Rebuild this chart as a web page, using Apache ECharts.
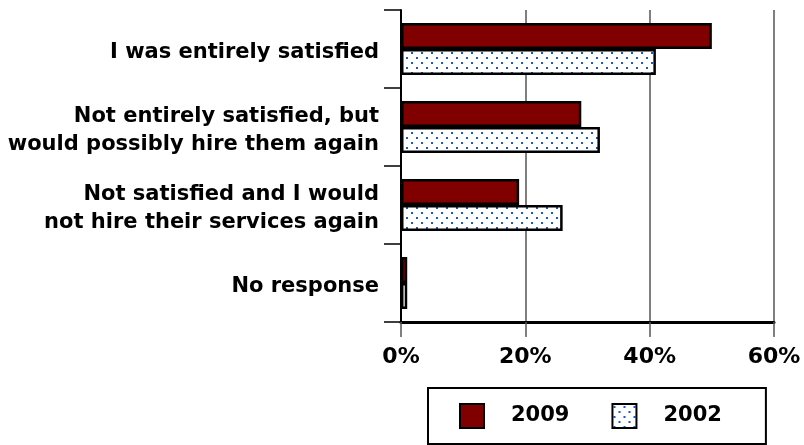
<!DOCTYPE html>
<html>
<head>
<meta charset="utf-8">
<script src="https://cdn.jsdelivr.net/npm/echarts@6/dist/echarts.min.js"></script>
<style>
  html, body { margin: 0; padding: 0; background: #fff; }
  #chart { width: 804px; height: 445px; }
</style>
</head>
<body>
<div id="chart"></div>
<script>
// Survey answers, top to bottom
const categories = [
  'I was entirely satisfied',
  'Not entirely satisfied, but\nwould possibly hire them again',
  'Not satisfied and I would\nnot hire their services again',
  'No response'
];
const values2009 = [50, 29, 19, 1];
const values2002 = [41, 32, 26, 1];
const xTicks = [0, 20, 40, 60];

// Dotted fill: white tile with staggered blue dots
function dotPattern() {
  const c = document.createElement('canvas');
  c.width = 10; c.height = 10;
  const g = c.getContext('2d');
  g.fillStyle = '#ffffff';
  g.fillRect(0, 0, 10, 10);
  g.fillStyle = '#1a5cb8';
  g.fillRect(1, 2, 2, 2);
  g.fillRect(6, 7, 2, 2);
  return c;
}

const font = 'DejaVu Sans';
const labelStyle = { fontFamily: font, fontWeight: 'bold', fontSize: 21, color: '#000', lineHeight: 28 };
const chart = echarts.init(document.getElementById('chart'), null, { renderer: 'canvas' });

chart.setOption({
  animation: false,
  textStyle: { fontFamily: font },
  grid: { left: 401, right: 30, top: 10, bottom: 123, containLabel: false },
  legend: {
    data: ['2009', '2002'],
    left: 428,
    top: 388,
    orient: 'horizontal',
    padding: [15, 44, 15, 31],
    itemWidth: 24,
    itemHeight: 24,
    itemGap: 42,
    borderColor: '#000',
    borderWidth: 2,
    icon: 'rect',
    selectedMode: false,
    textStyle: { fontFamily: font, fontWeight: 'bold', fontSize: 21, color: '#000', padding: [0, 0, 0, 22] }
  },
  xAxis: {
    type: 'value',
    min: 0,
    max: 60,
    interval: 20,
    axisLine: { show: true, lineStyle: { color: '#000', width: 3 } },
    axisTick: { show: true, length: 15, lineStyle: { color: '#555', width: 1.5 } },
    splitLine: { show: true, lineStyle: { color: '#555', width: 1.5 } },
    axisLabel: {
      margin: 24,
      fontFamily: font, fontWeight: 'bold', fontSize: 22, color: '#000',
      formatter: v => xTicks.includes(v) ? v + '%' : ''
    }
  },
  yAxis: {
    type: 'category',
    data: categories,
    inverse: true,
    axisLine: { show: true, lineStyle: { color: '#000', width: 2 } },
    axisTick: { show: true, length: 17, lineStyle: { color: '#000', width: 1.5 } },
    axisLabel: Object.assign({
      margin: 22,
      align: 'right',
      // a thin empty first line nudges each label slightly below the band centre
      formatter: v => '{gap| }\n' + v.split('\n').map(l => '{t|' + l + '}').join('\n'),
      rich: {
        gap: { fontSize: 1, lineHeight: 7 },
        t: labelStyle
      }
    }, labelStyle)
  },
  series: [
    {
      name: '2009',
      type: 'bar',
      data: values2009,
      barWidth: 26,
      barGap: '0%',
      itemStyle: { color: '#800000', borderColor: '#000', borderWidth: 2.5 }
    },
    {
      name: '2002',
      type: 'bar',
      data: values2002,
      barWidth: 26,
      itemStyle: { color: { image: dotPattern(), repeat: 'repeat' }, borderColor: '#000', borderWidth: 2.5 }
    }
  ]
});
</script>
</body>
</html>
